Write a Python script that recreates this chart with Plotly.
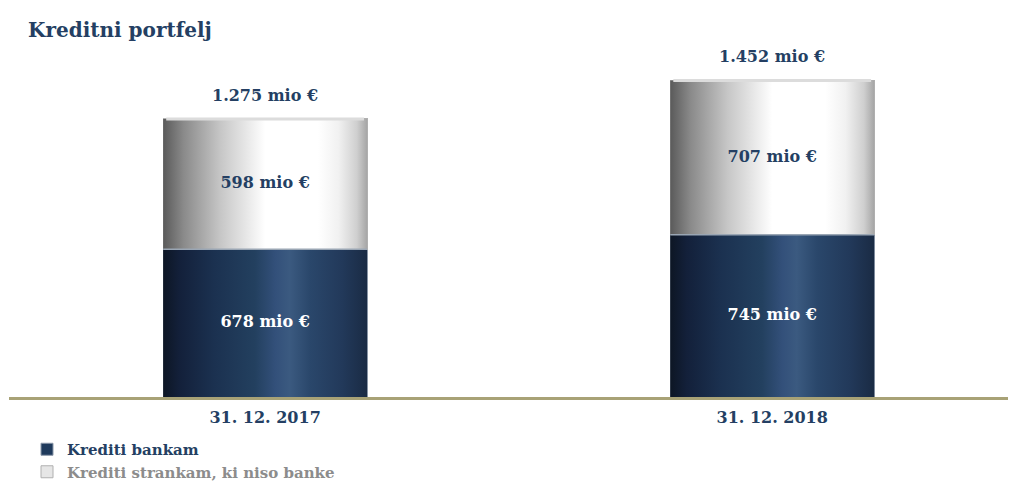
import plotly.graph_objects as go

# Loan portfolio, EUR million
periods = ["31. 12. 2017", "31. 12. 2018"]
bank_loans = [678, 745]
nonbank_loans = [598, 707]
totals = [1275, 1452]
series_names = ["Krediti bankam", "Krediti strankam, ki niso banke"]

x_pos = [0, 1]
bar_w = 0.402

NAVY = "#243F63"
GREY_TXT = "#8C8C8C"
FONT = "DejaVu Serif"

blue_scale = [
    [0.00, "#0d1624"], [0.08, "#13203a"], [0.25, "#1b3150"], [0.45, "#23405f"],
    [0.55, "#33507a"], [0.62, "#3b5a80"], [0.72, "#2a476b"], [0.88, "#22395a"],
    [1.00, "#1a2b44"],
]
white_scale = [
    [0.00, "#5a5a5a"], [0.10, "#8a8a8a"], [0.28, "#c6c6c6"], [0.45, "#f2f2f2"],
    [0.50, "#ffffff"], [0.76, "#ffffff"], [0.86, "#f1f1f1"], [0.95, "#cfcfcf"],
    [1.00, "#a6a6a6"],
]


def fmt(v):
    return f"{v:,}".replace(",", ".")


fig = go.Figure()

# Stacked bars (carry the legend entries)
fig.add_trace(go.Bar(x=x_pos, y=bank_loans, width=bar_w, name=series_names[0],
                     marker=dict(color="#1f3a5c", line=dict(color="#8a97a8", width=1)),
                     hoverinfo="skip"))
fig.add_trace(go.Bar(x=x_pos, y=nonbank_loans, width=bar_w,
                     name=f"<span style='color:{GREY_TXT}'>{series_names[1]}</span>",
                     marker=dict(color="#e6e6e6", line=dict(color="#b0b0b0", width=1)),
                     hoverinfo="skip"))

# Cylinder shading drawn over each stacked segment
for xc, b, n in zip(x_pos, bank_loans, nonbank_loans):
    x0, x1 = xc - bar_w / 2, xc + bar_w / 2
    segs = [(0, b, blue_scale), (b, b + n, white_scale)]
    for lo, hi, cs in segs:
        fig.add_trace(go.Scatter(
            x=[x0, x1, x1, x0, x0], y=[lo, lo, hi, hi, lo],
            mode="lines", line=dict(width=0), fill="toself",
            fillgradient=dict(type="horizontal", colorscale=cs),
            showlegend=False, hoverinfo="skip"))
    # separator between segments
    fig.add_trace(go.Scatter(x=[x0, x1], y=[b, b], mode="lines",
                             line=dict(color="#9aa6b4", width=1.5),
                             showlegend=False, hoverinfo="skip"))
    # top rim of the cylinder
    fig.add_trace(go.Scatter(x=[x0 + 0.006, x1 - 0.006], y=[b + n, b + n], mode="lines",
                             line=dict(color="#dcdcdc", width=3),
                             showlegend=False, hoverinfo="skip"))

# Segment value labels
fig.add_trace(go.Scatter(
    x=x_pos, y=[v / 2 for v in bank_loans], mode="text",
    text=[f"{v} mio €" for v in bank_loans],
    textfont=dict(family=FONT, size=16, color="white", weight="bold"),
    showlegend=False, hoverinfo="skip"))
fig.add_trace(go.Scatter(
    x=x_pos, y=[b + n / 2 for b, n in zip(bank_loans, nonbank_loans)], mode="text",
    text=[f"{v} mio €" for v in nonbank_loans],
    textfont=dict(family=FONT, size=16, color=NAVY, weight="bold"),
    showlegend=False, hoverinfo="skip"))

# Totals above the bars
for xc, t in zip(x_pos, totals):
    fig.add_annotation(x=xc, y=t, yshift=24, text=f"{fmt(t)} mio €", showarrow=False,
                       font=dict(family=FONT, size=16, color=NAVY, weight="bold"),
                       yanchor="middle")

fig.update_layout(
    width=1013, height=484,
    margin=dict(l=9, r=5, t=40, b=87, autoexpand=False),
    paper_bgcolor="white", plot_bgcolor="white",
    barmode="stack",
    title=dict(text="<b>Kreditni portfelj</b>", x=28 / 1013, xanchor="left",
               y=1 - 30 / 484, yanchor="middle",
               font=dict(family=FONT, size=20, color=NAVY)),
    xaxis=dict(range=[-0.505, 1.465], tickvals=x_pos, ticktext=periods,
               tickfont=dict(family=FONT, size=16, color=NAVY, weight="bold"),
               ticklabelstandoff=4,
               showgrid=False, zeroline=False, showline=True,
               linecolor="#a8a276", linewidth=3, ticks=""),
    yaxis=dict(range=[0, 1638], visible=False, showgrid=False, zeroline=False),
    legend=dict(orientation="v", x=(27 - 9) / 999, xanchor="left",
                yref="container", y=1 - 433 / 484, yanchor="top", traceorder="normal",
                font=dict(family=FONT, size=15, color=NAVY, weight="bold"),
                itemwidth=30, tracegroupgap=0, bgcolor="rgba(0,0,0,0)"),
    showlegend=True,
)

fig.write_html("out.html")
